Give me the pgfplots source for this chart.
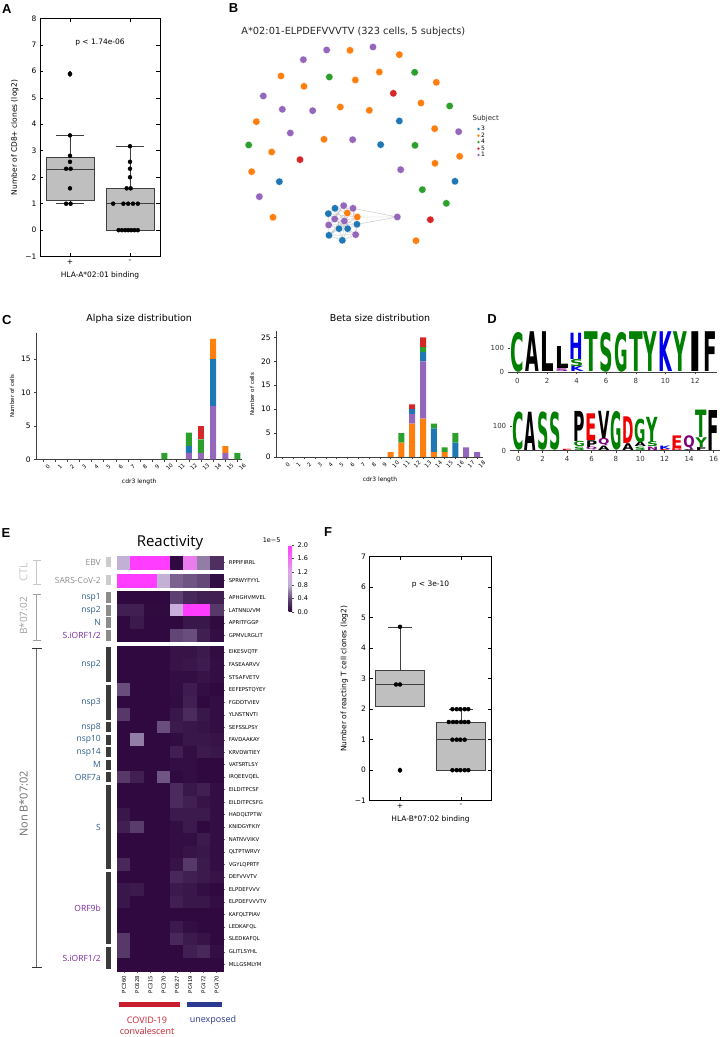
\documentclass[border=0pt]{standalone}
\usepackage{pgfplots}
\pgfplotsset{compat=1.18}
\usepgfplotslibrary{statistics}
\usepackage{pgfplotstable}
\usepackage{graphicx}
\usepackage{fontspec}
\setmainfont{DejaVu Sans}
\newfontfamily\osans{Open Sans}
\newfontfamily\lsans{Liberation Sans}
\newcommand\fs[1]{\fontsize{#1}{#1}\selectfont}
\newcommand\LT[5]{\node[anchor=south,inner sep=0pt,text=#4] at (axis cs:#1,#2) {\resizebox*{13.6pt}{#3}{\bfseries #5}};}
\newcommand\LB[5]{\node[anchor=south,inner sep=0pt,text=#4] at (axis cs:#1,#2) {\resizebox*{11.4pt}{#3}{\bfseries #5}};}

\definecolor{tabblue}{RGB}{31,119,180}
\definecolor{taborange}{RGB}{255,127,14}
\definecolor{tabgreen}{RGB}{44,160,44}
\definecolor{tabred}{RGB}{214,39,40}
\definecolor{tabpurple}{RGB}{148,103,189}
\definecolor{boxgray}{RGB}{191,191,191}
\definecolor{lgreen}{RGB}{0,128,0}
\definecolor{lblue}{RGB}{0,0,235}
\definecolor{lred}{RGB}{240,0,0}
\definecolor{lpurple}{RGB}{128,0,128}
\definecolor{protblue}{RGB}{46,92,140}
\definecolor{protpurple}{RGB}{122,40,160}
\definecolor{protgray}{RGB}{140,140,140}
\definecolor{covred}{RGB}{200,30,45}
\definecolor{unblue}{RGB}{43,57,144}
\definecolor{ctlgray}{RGB}{200,200,200}
\definecolor{bgray}{RGB}{160,160,160}
\definecolor{ngray}{RGB}{110,110,110}

\pgfplotsset{
  /pgf/number format/assume math mode=true,
  colormap={react}{rgb255(0cm)=(44,6,60) rgb255(4cm)=(100,72,120) rgb255(8cm)=(190,178,210) rgb255(12cm)=(220,165,230) rgb255(16cm)=(240,110,240) rgb255(20cm)=(255,60,255)},
  boxpanel/.style={scale only axis, anchor=north west,
    xmin=-0.5, xmax=1.5, xtick={0,1}, xticklabels={+,-},
    tick align=inside, major tick length=3.5pt,
    tick style={black, line width=0.5pt},
    axis line style={black, line width=0.6pt},
    tick label style={font=\fs{7.5}},
    label style={font=\fs{7.5}}, clip=false,
    boxplot/draw direction=y},
  bx/.style={draw=black!75, line width=0.6pt, fill=boxgray},
  pts/.style={only marks, mark=*, mark size=2pt, black},
  histo/.style={scale only axis, anchor=south west, ybar stacked, bar width=6pt,
    axis x line*=bottom, axis y line*=left,
    axis line style={black!75, line width=0.6pt},
    tick align=outside, major tick length=2.5pt, tick style={black!75, line width=0.5pt},
    xticklabel style={font=\fs{5.5}, rotate=45, anchor=center, yshift=-7pt},
    yticklabel style={font=\fs{7.5}},
    xlabel={cdr3 length}, xlabel style={font=\fs{6}},
    ylabel={Number of cells}, ylabel style={font=\fs{5.5}},
    title style={font=\fs{9.5}}},
  logo/.style={scale only axis, anchor=south west,
    axis x line*=bottom, axis y line*=left, y axis line style={draw=none},
    x axis line style={black!75, line width=0.6pt},
    tick align=outside, major tick length=2.5pt, tick style={black!75, line width=0.5pt},
    tick label style={font=\fs{7}, text=black!80}, clip=false, ymin=0},
  hm/.style={scatter, only marks, mark=square*, mark size=6.3pt,
    mark options={xscale=1.052, line width=0.15pt},
    scatter/use mapped color={draw=mapped color, fill=mapped color}, point meta=explicit},
  node/.style={only marks, mark=*, mark size=3.7pt, mark options={draw=white, line width=0.25pt, fill=#1}, color=#1},
}

\pgfplotstableread{
x p b o g r
0 0 0 0 0 0
1 0 0 0 0 0
2 0 0 0 0 0
3 0 0 0 0 0
4 0 0 0 0 0
5 0 0 0 0 0
6 0 0 0 0 0
7 0 0 0 0 0
8 0 0 0 0 0
9 0 0 0 0 0
10 0 0 0 1 0
11 0 0 0 0 0
12 1 1 0 2 0
13 1 0 0 2 2
14 8 7 3 0 0
15 1 0 1 0 0
16 0 0 0 1 0
}\alphatab

\pgfplotstableread{
x o p b g r
0 0 0 0 0 0
1 0 0 0 0 0
2 0 0 0 0 0
3 0 0 0 0 0
4 0 0 0 0 0
5 0 0 0 0 0
6 0 0 0 0 0
7 0 0 0 0 0
8 0 0 0 0 0
9 0 0 0 0 0
10 1 0 0 0 0
11 3 0 0 2 0
12 7 2 1 0 1
13 8 12 2 1 2
14 1 0 5 1 0
15 1 0 0 1 0
16 0 0 3 2 0
17 0 2 0 0 0
18 0 1 0 0 0
}\betatab

\pgfplotstableread{
y c0 c1 c2 c3 c4 c5 c6 c7
562.3 0.85 2.5 2.5 2.5 0.02 1.5 0.6 0.25
580.3 2.5 2.5 2.5 0.85 0.5 0.45 0.4 0.05
597.7 0.02 0.02 0.02 0.02 0.35 0.2 0.15 0.15
610.2 0.15 0.15 0.03 0.03 0.95 2.5 2.5 0.3
622.7 0.02 0.12 0.02 0.02 0.02 0.1 0.1 0.03
635.1 0.02 0.02 0.02 0.02 0.38 0.42 0.15 0.05
652.3 0.02 0.02 0.02 0.02 0.08 0.08 0.12 0.04
664.8 0.02 0.02 0.02 0.02 0.08 0.1 0.13 0.05
677.3 0.02 0.02 0.02 0.02 0.05 0.05 0.08 0.05
689.7 0.42 0.02 0.02 0.02 0.05 0.13 0.05 0.02
702.2 0.02 0.02 0.02 0.02 0.04 0.15 0.02 0.05
714.7 0.3 0.02 0.02 0.02 0.1 0.22 0.1 0.05
727.2 0.02 0.02 0.02 0.42 0.12 0.1 0.08 0.05
739.7 0.02 0.6 0.02 0.02 0.04 0.1 0.1 0.08
752.1 0.02 0.02 0.02 0.02 0.15 0.05 0.12 0.1
764.6 0.02 0.02 0.02 0.02 0.05 0.05 0.02 0.02
777.1 0.3 0.15 0.02 0.45 0.02 0.05 0.02 0.02
789.6 0.02 0.02 0.02 0.02 0.22 0.1 0.15 0.05
802.1 0.02 0.02 0.02 0.02 0.22 0.15 0.08 0.05
814.5 0.1 0.02 0.02 0.02 0.12 0.12 0.12 0.05
827.0 0.15 0.32 0.02 0.02 0.05 0.12 0.02 0.05
839.5 0.02 0.02 0.02 0.02 0.05 0.05 0.12 0.05
852.0 0.02 0.02 0.02 0.02 0.05 0.08 0.1 0.05
864.5 0.2 0.02 0.02 0.02 0.08 0.3 0.12 0.05
876.9 0.02 0.02 0.02 0.02 0.2 0.15 0.12 0.08
889.4 0.1 0.12 0.02 0.02 0.12 0.1 0.05 0.02
901.9 0.1 0.02 0.02 0.02 0.15 0.1 0.1 0.05
914.4 0.02 0.02 0.02 0.02 0.02 0.02 0.02 0.02
926.9 0.02 0.02 0.02 0.02 0.12 0.05 0.02 0.02
939.3 0.3 0.02 0.02 0.02 0.2 0.12 0.08 0.02
951.8 0.3 0.02 0.02 0.02 0.02 0.15 0.2 0.05
964.3 0.02 0.02 0.02 0.02 0.02 0.02 0.02 0.02
}\heat

\begin{document}
\begin{tikzpicture}
\useasboundingbox (0,0) rectangle (720pt,1037pt);

% ================= A =================
\begin{axis}[boxpanel, at={(40pt,1018.7pt)}, width=120pt, height=238.4pt,
  ymin=-1, ymax=8, ytick={-1,0,1,2,3,4,5,6,7,8}, yticklabels={−1,0,1,2,3,4,5,6,7,8},
  xlabel={HLA-A*02:01 binding}, ylabel={Number of CD8+ clones (log2)}]
\addplot[bx, boxplot prepared={draw position=0, lower whisker=1, lower quartile=1.14, median=2.31, upper quartile=2.75, upper whisker=3.58, box extend=0.8, whisker extend=0.47}] coordinates {};
\addplot[bx, boxplot prepared={draw position=1, lower whisker=0, lower quartile=0, median=1, upper quartile=1.58, upper whisker=3.17, box extend=0.8, whisker extend=0.47}] coordinates {};
\addplot[only marks, mark=diamond*, mark size=2.8pt, black] coordinates {(0,5.9)};
\addplot[pts] coordinates {(0,5.9) (0,3.58) (0,2.81) (0,2.58) (-0.065,2.32) (0.01,2.32) (0,1.58) (-0.065,1) (0.01,1)
 (1,3.17) (1,2.58) (1,2.32) (1,2) (0.944,1.58) (1.011,1.58)
 (0.72,1) (0.89,1) (0.97,1) (1.05,1) (1.13,1)
 (0.81,0) (0.865,0) (0.92,0) (0.97,0) (1.02,0) (1.075,0) (1.13,0)};
\node[font=\fs{7.5}] at (axis cs:0.5,7.1) {p < 1.74e-06};
\end{axis}

% ================= B =================
\begin{axis}[at={(230pt,1037pt)}, anchor=north west, scale only axis, width=300pt, height=330pt,
  xmin=0, xmax=900, ymin=0, ymax=990, y dir=reverse, hide axis, clip=false,
  legend style={at={(axis cs:740,375)}, anchor=north west, draw=none, fill=none,
    font=\fs{6}, inner sep=0pt, row sep=-1.2pt, nodes={inner sep=0.9pt}},
  legend cell align=left,
  legend image code/.code={\draw[#1, mark size=1.7pt] plot coordinates {(0.1cm,0cm)};}]
\addplot[forget plot, draw=black!22, line width=0.45pt, unbounded coords=jump] coordinates {
(315,625) (341,617) (nan,nan) (315,625) (369,625) (nan,nan) (315,625) (295,641) (nan,nan)
(315,625) (352,639) (nan,nan) (315,625) (343,663) (nan,nan) (315,625) (327,686) (nan,nan)
(315,625) (337,721) (nan,nan) (341,617) (369,625) (nan,nan) (341,617) (314,657) (nan,nan)
(341,617) (353,686) (nan,nan) (341,617) (296,675) (nan,nan) (369,625) (352,639) (nan,nan)
(369,625) (343,663) (nan,nan) (369,625) (381,673) (nan,nan) (369,625) (377,704) (nan,nan)
(369,625) (327,686) (nan,nan) (295,641) (314,657) (nan,nan) (295,641) (296,675) (nan,nan)
(295,641) (382,651) (nan,nan) (295,641) (353,686) (nan,nan) (352,639) (382,651) (nan,nan)
(352,639) (353,686) (nan,nan) (352,639) (297,706) (nan,nan) (352,639) (296,675) (nan,nan)
(382,651) (381,673) (nan,nan) (382,651) (343,663) (nan,nan) (382,651) (297,706) (nan,nan)
(382,651) (327,686) (nan,nan) (314,657) (343,663) (nan,nan) (314,657) (381,673) (nan,nan)
(314,657) (377,704) (nan,nan) (343,663) (337,721) (nan,nan) (343,663) (297,706) (nan,nan)
(296,675) (327,686) (nan,nan) (296,675) (381,673) (nan,nan) (296,675) (297,706) (nan,nan)
(327,686) (377,704) (nan,nan) (327,686) (297,706) (nan,nan) (353,686) (381,673) (nan,nan)
(353,686) (337,721) (nan,nan) (381,673) (377,704) (nan,nan) (297,706) (337,721) (nan,nan)
(337,721) (377,704) (nan,nan) (297,706) (377,704) (nan,nan)
(369,625) (502,651) (nan,nan) (382,651) (502,651) (nan,nan) (381,673) (502,651)};
\addplot[node=tabblue] coordinates {(508,363) (452,434) (148,545) (675,544) (315,625) (295,641) (327,686) (353,686) (381,673) (297,706) (337,721)};
\addlegendentry{3}
\addplot[node=taborange] coordinates {(360,151) (508,164) (153,228) (376,240) (448,216) (222,259) (619,247) (331,321) (418,331) (573,309) (79,365) (282,418) (614,386) (125,456) (689,469) (615,490) (65,515) (129,652) (558,722) (352,639) (382,651)};
\addlegendentry{2}
\addplot[node=tabgreen] coordinates {(298,231) (554,217) (659,318) (555,436) (56,435) (577,569) (649,610)};
\addlegendentry{4}
\addplot[node=tabred] coordinates {(490,280) (210,479) (601,659)};
\addlegendentry{5}
\addplot[node=tabpurple] coordinates {(290,150) (429,141) (220,179) (100,288) (157,328) (248,332) (181,399) (368,419) (686,395) (512,509) (88,590) (502,651) (341,617) (369,625) (314,657) (343,663) (296,675) (377,704)};
\addlegendentry{1}
\node[font=\fs{9.8}, text=black!85] at (axis cs:370,95) {A*02:01-ELPDEFVVVTV (323 cells, 5 subjects)};
\node[font=\fs{7}, text=black!85] at (axis cs:767,355) {Subject};
\end{axis}

% ================= C alpha =================
\begin{axis}[histo, at={(36.7pt,577.5pt)}, width=205pt, height=126.6pt,
  xmin=-0.5, xmax=16.35, ymin=0, ymax=18.9, xtick={0,...,16}, ytick={0,5,10,15},
  title={Alpha size distribution}]
\addplot[fill=tabpurple, draw=none] table[x=x, y=p] {\alphatab};
\addplot[fill=tabblue, draw=none] table[x=x, y=b] {\alphatab};
\addplot[fill=taborange, draw=none] table[x=x, y=o] {\alphatab};
\addplot[fill=tabgreen, draw=none] table[x=x, y=g] {\alphatab};
\addplot[fill=tabred, draw=none] table[x=x, y=r] {\alphatab};
\end{axis}

% ================= C beta =================
\begin{axis}[histo, at={(276.7pt,580pt)}, width=206.6pt, height=125.5pt,
  xmin=-0.55, xmax=18.58, ymin=0, ymax=26.25, xtick={0,...,18}, ytick={0,5,10,15,20,25},
  title={Beta size distribution}]
\addplot[fill=taborange, draw=none] table[x=x, y=o] {\betatab};
\addplot[fill=tabpurple, draw=none] table[x=x, y=p] {\betatab};
\addplot[fill=tabblue, draw=none] table[x=x, y=b] {\betatab};
\addplot[fill=tabgreen, draw=none] table[x=x, y=g] {\betatab};
\addplot[fill=tabred, draw=none] table[x=x, y=r] {\betatab};
\end{axis}

% ================= D top logo =================
\begin{axis}[logo, at={(510pt,665pt)}, width=207.2pt, height=41.5pt,
  xmin=-0.5, xmax=13.5, ymax=175, xtick={0,2,...,12}, ytick={0,100}]
\LT{0}{0}{39.8pt}{lgreen}{C}
\LT{1}{0}{39.8pt}{black}{A}
\LT{2}{0}{39.8pt}{black}{L}
\LT{3}{0}{2.8pt}{lpurple}{S}
\LT{3}{12}{22pt}{black}{L}
\LT{4}{0}{5.2pt}{lblue}{K}
\LT{4}{22}{7.1pt}{lgreen}{S}
\LT{4}{52}{26.3pt}{lblue}{H}
\LT{5}{0}{39.8pt}{lgreen}{T}
\LT{6}{0}{39.8pt}{lgreen}{S}
\LT{7}{0}{39.8pt}{lgreen}{G}
\LT{8}{0}{39.8pt}{lgreen}{T}
\LT{9}{0}{39.8pt}{lgreen}{Y}
\LT{10}{0}{39.8pt}{lblue}{K}
\LT{11}{0}{39.8pt}{lgreen}{Y}
\LT{12}{0}{39.8pt}{black}{I}
\LT{13}{0}{39.8pt}{black}{F}
\end{axis}

% ================= D bottom logo =================
\begin{axis}[logo, at={(512.2pt,586.5pt)}, width=207.4pt, height=41.2pt,
  xmin=-0.5, xmax=16.5, ymax=170, xtick={0,2,...,16}, ytick={0,100}]
\LB{0}{0}{38.3pt}{lgreen}{C}
\LB{1}{0}{38.3pt}{black}{A}
\LB{2}{0}{38.3pt}{lgreen}{S}
\LB{3}{0}{38.3pt}{lgreen}{S}
\LB{4}{0}{1.2pt}{lred}{E}
\LB{5}{0}{3.4pt}{lgreen}{S}
\LB{5}{14}{5.3pt}{lgreen}{G}
\LB{5}{36}{30.1pt}{black}{P}
\LB{6}{0}{2.9pt}{lpurple}{Q}
\LB{6}{12}{6.8pt}{black}{P}
\LB{6}{40}{26.7pt}{lred}{E}
\LB{7}{0}{4.4pt}{black}{A}
\LB{7}{18}{7.3pt}{lpurple}{Q}
\LB{7}{48}{27.2pt}{black}{V}
\LB{8}{0}{38.8pt}{lgreen}{G}
\LB{9}{0}{6.8pt}{black}{A}
\LB{9}{28}{26.7pt}{lred}{D}
\LB{10}{0}{3.4pt}{lgreen}{S}
\LB{10}{14}{4.4pt}{black}{A}
\LB{10}{32}{23.8pt}{lgreen}{G}
\LB{11}{0}{3.4pt}{lpurple}{N}
\LB{11}{14}{4.9pt}{lgreen}{S}
\LB{11}{34}{25.2pt}{lgreen}{Y}
\LB{12}{0}{1.0pt}{lred}{E}
\LB{12}{4}{3.4pt}{lblue}{K}
\LB{13}{0}{1.9pt}{lred}{D}
\LB{13}{8}{12.6pt}{lred}{E}
\LB{14}{0}{1.0pt}{black}{A}
\LB{14}{4}{14.1pt}{lpurple}{Q}
\LB{15}{0}{2.9pt}{black}{F}
\LB{15}{12}{9.7pt}{lgreen}{Y}
\LB{15}{52}{27.4pt}{lgreen}{T}
\LB{16}{0}{40pt}{black}{F}
\end{axis}

% ================= E heatmap =================
\begin{axis}[at={(117.3pt,481pt)}, anchor=north west, scale only axis, width=106pt, height=414.5pt,
  xmin=-0.5, xmax=7.5, ymin=556, ymax=970.5, y dir=reverse,
  axis line style={draw=none}, tick align=outside, major tick length=2pt,
  tick style={black!60, line width=0.4pt},
  xtick={0,...,7}, xticklabels={PC360,PC628,PC315,PC370,PC627,PC419,PC472,PC470},
  xtick pos=bottom, xticklabel style={rotate=90, anchor=east, font=\fs{5.3}},
  ytick={562.3,580.3,597.7,610.2,622.7,635.1,652.3,664.8,677.3,689.7,702.2,714.7,727.2,739.7,752.1,764.6,777.1,789.6,802.1,814.5,827.0,839.5,852.0,864.5,876.9,889.4,901.9,914.4,926.9,939.3,951.8,964.3},
  yticklabels={RPPIFIRRL,SPRWYFYYL,APHGHVMVEL,LATNNLVVM,APRITFGGP,GPMVLRGLIT,EIKESVQTF,FASEAARVV,STSAFVETV,EEFEPSTQYEY,FGDDTVIEV,YLNSTNVTI,SEFSSLPSY,FAVDAAKAY,KRVDWTIEY,VATSRTLSY,IRQEEVQEL,EILDITPCSF,EILDITPCSFG,HADQLTPTW,KNIDGYFKIY,NATNVVIKV,QLTPTWRVY,VGYLQPRTF,DEFVVVTV,ELPDEFVVV,ELPDEFVVVTV,KAFQLTPIAV,LEDKAFQL,SLEDKAFQL,GLITLSYHL,MLLGSMLYM},
  ytick pos=right, yticklabel pos=right, yticklabel style={font=\fs{5.3}},
  colormap name=react, point meta min=0, point meta max=2,
  colorbar,
  colorbar style={at={(parent axis.north east)}, anchor=north west, xshift=56.7pt, yshift=11pt,
    scale only axis, width=3.6pt, height=67pt, y dir=normal,
    axis line style={draw=none},
    ytick={0,0.4,0.8,1.2,1.6,2}, ytick pos=right, yticklabel pos=right,
    major tick length=2pt, tick align=outside, tick style={black!70, line width=0.4pt},
    yticklabel style={font=\fs{6.5}, /pgf/number format/fixed, /pgf/number format/fixed zerofill, /pgf/number format/precision=1}},
  clip=false]
\addplot[hm] table[x expr=0, y=y, meta=c0] {\heat};
\addplot[hm] table[x expr=1, y=y, meta=c1] {\heat};
\addplot[hm] table[x expr=2, y=y, meta=c2] {\heat};
\addplot[hm] table[x expr=3, y=y, meta=c3] {\heat};
\addplot[hm] table[x expr=4, y=y, meta=c4] {\heat};
\addplot[hm] table[x expr=5, y=y, meta=c5] {\heat};
\addplot[hm] table[x expr=6, y=y, meta=c6] {\heat};
\addplot[hm] table[x expr=7, y=y, meta=c7] {\heat};
\end{axis}
\node[font=\fs{6.5}] at (271.7pt,497pt) {1e−5};
\node[font=\osans\fs{15}] at (170pt,494pt) {Reactivity};

% annotation bars
\fill[black!20] (106pt,479.5pt) rectangle (110.7pt,469.7pt);
\fill[black!20] (106pt,461.5pt) rectangle (110.7pt,451.7pt);
\fill[black!45] (106pt,444.8pt) rectangle (110.7pt,433.8pt);
\fill[black!45] (106pt,432.3pt) rectangle (110.7pt,421.3pt);
\fill[black!45] (106pt,419.8pt) rectangle (110.7pt,408.8pt);
\fill[black!45] (106pt,407.4pt) rectangle (110.7pt,396.4pt);
\fill[black!77] (106pt,389.7pt) rectangle (110.7pt,354.7pt);
\fill[black!77] (106pt,352.3pt) rectangle (110.7pt,317.3pt);
\fill[black!77] (106pt,314.8pt) rectangle (110.7pt,304.8pt);
\fill[black!77] (106pt,302.3pt) rectangle (110.7pt,292.3pt);
\fill[black!77] (106pt,289.9pt) rectangle (110.7pt,279.9pt);
\fill[black!77] (106pt,277.4pt) rectangle (110.7pt,267.4pt);
\fill[black!77] (106pt,264.9pt) rectangle (110.7pt,254.9pt);
\fill[black!77] (106pt,252.4pt) rectangle (110.7pt,167.5pt);
\fill[black!77] (106pt,165.1pt) rectangle (110.7pt,92.7pt);
\fill[black!77] (106pt,90.2pt) rectangle (110.7pt,67.7pt);

% protein labels
\begin{scope}[every node/.style={anchor=east, font=\osans\fs{8.5}, inner sep=0pt}]
\node[text=protgray] at (101pt,474.7pt) {EBV};
\node[text=protgray] at (101pt,456.7pt) {SARS-CoV-2};
\node[text=protblue] at (101pt,439.3pt) {nsp1};
\node[text=protblue] at (101pt,426.8pt) {nsp2};
\node[text=protblue] at (101pt,414.3pt) {N};
\node[text=protpurple] at (101pt,401.9pt) {S.iORF1/2};
\node[text=protblue] at (101pt,372.2pt) {nsp2};
\node[text=protblue] at (101pt,334.8pt) {nsp3};
\node[text=protblue] at (101pt,309.8pt) {nsp8};
\node[text=protblue] at (101pt,297.3pt) {nsp10};
\node[text=protblue] at (101pt,284.9pt) {nsp14};
\node[text=protblue] at (101pt,272.4pt) {M};
\node[text=protblue] at (101pt,259.9pt) {ORF7a};
\node[text=protblue] at (101pt,210pt) {S};
\node[text=protpurple] at (101pt,128.9pt) {ORF9b};
\node[text=protpurple] at (101pt,79pt) {S.iORF1/2};
\end{scope}

% brackets
\draw[ctlgray, line width=0.9pt] (36.7pt,476.3pt) -- (36.7pt,453pt) (32.7pt,476.3pt) -- (40.7pt,476.3pt) (32.7pt,453pt) -- (40.7pt,453pt);
\node[rotate=90, text=ctlgray, font=\osans\fs{11}] at (23.5pt,465pt) {CTL};
\draw[bgray, line width=0.9pt] (36.7pt,443pt) -- (36.7pt,397pt) (32.7pt,443pt) -- (40.7pt,443pt) (32.7pt,397pt) -- (40.7pt,397pt);
\node[rotate=90, text=bgray, font=\osans\fs{10}] at (23.5pt,421pt) {B*07:02};
\draw[ngray, line width=0.9pt] (36.7pt,388.7pt) -- (36.7pt,69.3pt);
\draw[black!80, line width=1.1pt] (32pt,388.7pt) -- (42pt,388.7pt) (32pt,69.3pt) -- (42pt,69.3pt);
\node[rotate=90, text=ngray, font=\osans\fs{11}] at (23.5pt,233pt) {Non B*07:02};

% group bars
\fill[covred] (119pt,35.3pt) rectangle (180pt,29.7pt);
\fill[unblue] (187.3pt,35.3pt) rectangle (221.7pt,29.7pt);
\node[text=covred, font=\osans\fs{9}] at (147pt,17pt) {COVID-19};
\node[text=covred, font=\osans\fs{9}] at (147pt,5.5pt) {convalescent};
\node[text=unblue, font=\osans\fs{9}] at (213pt,17pt) {unexposed};

% ================= F =================
\begin{axis}[boxpanel, at={(369.5pt,480.3pt)}, width=122pt, height=244pt,
  ymin=-1, ymax=7, ytick={-1,0,1,2,3,4,5,6,7}, yticklabels={−1,0,1,2,3,4,5,6,7},
  xlabel={HLA-B*07:02 binding}, ylabel={Number of reacting T cell clones (log2)}]
\addplot[bx, boxplot prepared={draw position=0, lower whisker=2.1, lower quartile=2.1, median=2.81, upper quartile=3.28, upper whisker=4.7, box extend=0.8, whisker extend=0.4}] coordinates {};
\addplot[bx, boxplot prepared={draw position=1, lower whisker=0, lower quartile=0, median=1, upper quartile=1.58, upper whisker=2, box extend=0.8, whisker extend=0.4}] coordinates {};
\addplot[only marks, mark=diamond*, mark size=2.4pt, black] coordinates {(0,0)};
\addplot[pts] coordinates {(0,4.7) (-0.065,2.81) (0,2.81) (0,0)
 (0.86,2) (0.93,2) (0.99,2) (1.06,2) (1.12,2)
 (0.8,1.58) (0.87,1.58) (0.93,1.58) (1.0,1.58) (1.06,1.58) (1.12,1.58)
 (0.86,1) (0.93,1) (0.99,1) (1.06,1)
 (0.86,0) (0.93,0) (0.99,0) (1.06,0) (1.12,0)};
\node[font=\fs{7.5}] at (axis cs:0.5,6.1) {p < 3e-10};
\end{axis}

% panel letters
\begin{scope}[every node/.style={font=\lsans\bfseries\fs{13}}]
\node at (6.7pt,1028pt) {A};
\node at (233.5pt,1028.5pt) {B};
\node at (6.7pt,717pt) {C};
\node at (492pt,718pt) {D};
\node at (6pt,504pt) {E};
\node at (328pt,505pt) {F};
\end{scope}
\end{tikzpicture}
\end{document}
